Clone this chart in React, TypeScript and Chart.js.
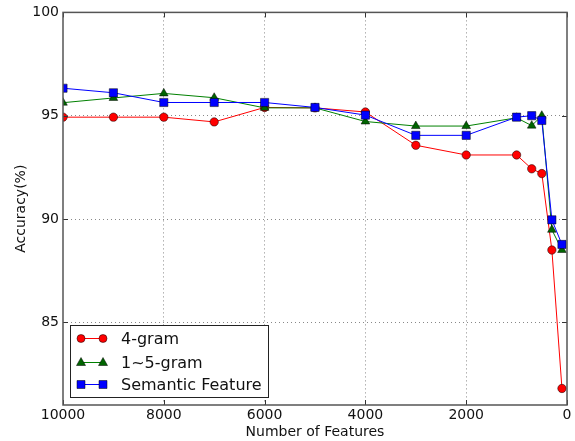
import React, { useEffect, useRef } from "react";
import { Chart, registerables } from "chart.js";
Chart.register(...registerables);

const features = [10000, 9000, 8000, 7000, 6000, 5000, 4000, 3000, 2000, 1000, 700, 500, 300, 100];
const gram4 = [94.93, 94.93, 94.93, 94.7, 95.4, 95.38, 95.18, 93.57, 93.1, 93.1, 92.43, 92.2, 88.5, 81.8];
const gram15 = [95.63, 95.86, 96.08, 95.87, 95.38, 95.38, 94.72, 94.5, 94.5, 94.9, 94.52, 95.0, 89.48, 88.5];
const semantic = [96.33, 96.11, 95.64, 95.64, 95.64, 95.4, 95.03, 94.05, 94.05, 94.93, 95.0, 94.77, 89.96, 88.77];
const xTicks = [10000, 8000, 6000, 4000, 2000, 0];
const yTicks = [85, 90, 95, 100];
const seriesNames = ["4-gram", "1~5-gram", "Semantic Feature"];
const seriesColors = ["#ff0000", "#008000", "#0000ff"];
const markerFill = ["#ff0000", "#006400", "#0000ff"];
const markerStyles = ["circle", "triangle", "rect"];
const markerRadius = [4.2, 5, 5.8];

const FONT = "'DejaVu Sans', sans-serif";

export default function App() {
  const ref = useRef<HTMLCanvasElement | null>(null);
  useEffect(() => {
    document.body.style.margin = "0";
    const canvas = ref.current!;
    const seriesData = [gram4, gram15, semantic];
    const datasets = seriesData.map((vals, i) => ({
      label: seriesNames[i],
      data: features.map((f, j) => ({ x: f, y: vals[j] })),
      borderColor: seriesColors[i],
      backgroundColor: markerFill[i],
      borderWidth: 1,
      pointStyle: markerStyles[i] as any,
      pointRadius: markerRadius[i],
      pointBackgroundColor: markerFill[i],
      pointBorderColor: "#000000",
      pointBorderWidth: 0.5,
      tension: 0,
      order: 3 - i,
    }));

    const frameTicks = {
      id: "frameTicks",
      afterDraw(chart: any) {
        const { ctx, chartArea: a, scales } = chart;
        ctx.save();
        // legend
        const lx = 70, ly = 325, lw = 198, lh = 72;
        ctx.fillStyle = "#ffffff";
        ctx.fillRect(lx, ly, lw, lh);
        ctx.strokeStyle = "#222";
        ctx.lineWidth = 1;
        ctx.strokeRect(lx + 0.5, ly + 0.5, lw, lh);
        const rows = [338.5, 362.5, 384.5];
        rows.forEach((yy, i) => {
          ctx.strokeStyle = seriesColors[i];
          ctx.lineWidth = 1;
          ctx.beginPath();
          ctx.moveTo(81, yy);
          ctx.lineTo(103, yy);
          ctx.stroke();
          [81, 103].forEach((px) => {
            ctx.fillStyle = markerFill[i];
            ctx.strokeStyle = "#000";
            ctx.lineWidth = 0.5;
            ctx.beginPath();
            if (i === 0) {
              ctx.arc(px, yy, 4, 0, Math.PI * 2);
            } else if (i === 1) {
              ctx.moveTo(px, yy - 5);
              ctx.lineTo(px + 4.5, yy + 3);
              ctx.lineTo(px - 4.5, yy + 3);
              ctx.closePath();
            } else {
              ctx.rect(px - 4, yy - 4, 8, 8);
            }
            ctx.fill();
            ctx.stroke();
          });
          ctx.fillStyle = "#111";
          ctx.font = "16px " + FONT;
          ctx.textBaseline = "middle";
          ctx.textAlign = "left";
          ctx.fillText(seriesNames[i], 121, yy + 1);
        });
        // inward ticks
        ctx.strokeStyle = "#333";
        ctx.lineWidth = 1;
        const xs = scales.x, ys = scales.y;
        xTicks.forEach((t) => {
          const px = Math.round(xs.getPixelForValue(t)) + 0.5;
          ctx.beginPath();
          ctx.moveTo(px, a.bottom);
          ctx.lineTo(px, a.bottom - 5);
          ctx.moveTo(px, a.top);
          ctx.lineTo(px, a.top + 5);
          ctx.stroke();
        });
        yTicks.forEach((t) => {
          const py = Math.round(ys.getPixelForValue(t)) + 0.5;
          ctx.beginPath();
          ctx.moveTo(a.left, py);
          ctx.lineTo(a.left + 5, py);
          ctx.moveTo(a.right, py);
          ctx.lineTo(a.right - 5, py);
          ctx.stroke();
        });
        // frame
        ctx.strokeStyle = "#555";
        ctx.lineWidth = 1.5;
        ctx.strokeRect(a.left, a.top, a.right - a.left, a.bottom - a.top);
        ctx.restore();
      },
    };

    const chart = new Chart(canvas, {
      type: "line",
      data: { datasets: datasets as any },
      options: {
        animation: false,
        responsive: false,
        devicePixelRatio: 1,
        layout: { padding: { top: 12, right: 8, left: 0, bottom: 0 } },
        plugins: {
          legend: { display: false },
          tooltip: { enabled: false },
        },
        scales: {
          x: {
            type: "linear",
            reverse: true,
            min: 0,
            max: 10000,
            afterBuildTicks: (s: any) => {
              s.ticks = xTicks.map((v) => ({ value: v }));
            },
            afterFit: (s: any) => {
              s.height = 36;
            },
            ticks: {
              font: { family: FONT, size: 14 },
              color: "#111",
              padding: 2,
              maxRotation: 0,
              callback: (v: any) => String(v),
            },
            grid: {
              color: (c: any) => (c.tick && (c.tick.value === 0 || c.tick.value === 10000) ? "rgba(0,0,0,0)" : "#888"),
              lineWidth: 1,
              drawTicks: false,
            },
            border: { display: false, dash: [1, 3] },
            title: {
              display: true,
              text: "Number of Features",
              font: { family: FONT, size: 14 },
              color: "#111",
              padding: { top: 0, bottom: 0 },
            },
          },
          y: {
            type: "linear",
            min: 81,
            max: 100,
            afterBuildTicks: (s: any) => {
              s.ticks = yTicks.map((v) => ({ value: v }));
            },
            afterFit: (s: any) => {
              s.width = 63;
            },
            ticks: {
              font: { family: FONT, size: 14 },
              color: "#111",
              padding: 4,
            },
            grid: {
              color: (c: any) => (c.tick && c.tick.value === 100 ? "rgba(0,0,0,0)" : "#888"),
              lineWidth: 1,
              drawTicks: false,
            },
            border: { display: false, dash: [1, 3] },
            title: {
              display: true,
              text: "Accuracy(%)",
              font: { family: FONT, size: 14 },
              color: "#111",
              padding: { top: 13, bottom: 0 },
            },
          },
        },
      },
      plugins: [frameTicks],
    });
    return () => chart.destroy();
  }, []);
  return <canvas ref={ref} width={575} height={441} style={{ display: "block" }} />;
}
